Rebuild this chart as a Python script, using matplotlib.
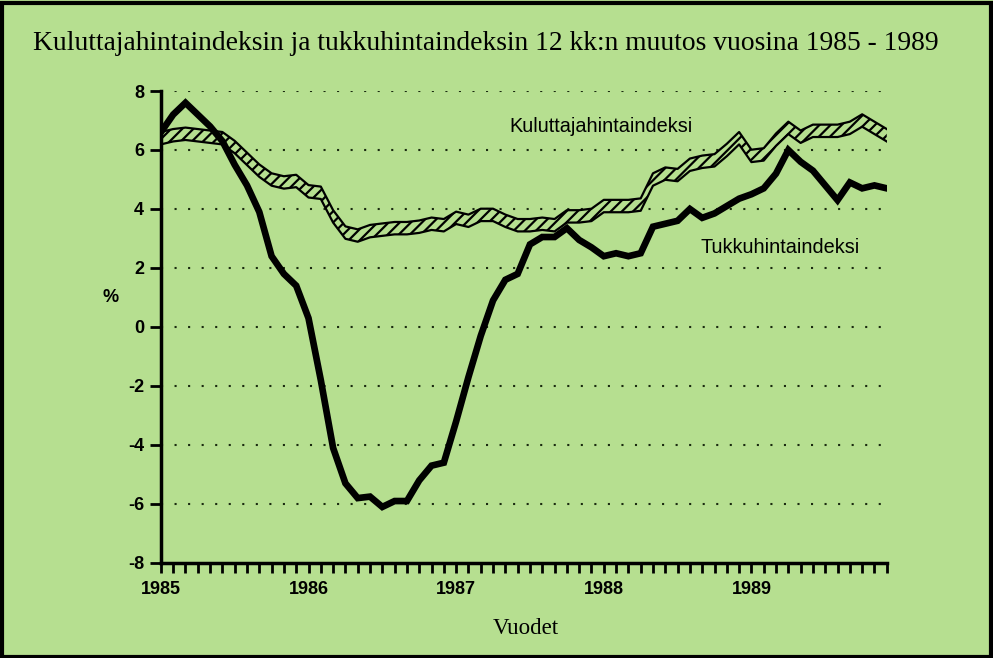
import matplotlib
matplotlib.use("Agg")
import matplotlib.pyplot as plt
import numpy as np
from matplotlib.patches import Rectangle

# Data: monthly values Jan 1985 .. Dec 1989 (index 0..59)
months = list(range(60))
tukku = [6.6, 7.2, 7.6, 7.2, 6.8, 6.3, 5.5, 4.8, 3.9, 2.4,
         1.8, 1.4, 0.3, -1.8, -4.1, -5.3, -5.8, -5.75, -6.1, -5.9,
         -5.9, -5.2, -4.7, -4.6, -3.2, -1.7, -0.3, 0.9, 1.6, 1.8,
         2.8, 3.05, 3.05, 3.35, 2.95, 2.7, 2.4, 2.5, 2.4, 2.5,
         3.4, 3.5, 3.6, 4.0, 3.7, 3.85, 4.1, 4.35, 4.5, 4.7,
         5.2, 6.0, 5.6, 5.3, 4.8, 4.3, 4.9, 4.7, 4.8, 4.7]
kuluttaja = [6.4, 6.5, 6.55, 6.5, 6.45, 6.4, 6.1, 5.7, 5.3, 5.0,
             4.9, 4.95, 4.6, 4.55, 3.75, 3.2, 3.1, 3.25, 3.3, 3.35,
             3.35, 3.4, 3.5, 3.45, 3.7, 3.6, 3.8, 3.8, 3.6, 3.45,
             3.45, 3.5, 3.45, 3.75, 3.75, 3.8, 4.1, 4.1, 4.1, 4.15,
             5.0, 5.2, 5.15, 5.5, 5.6, 5.65, 6.0, 6.4, 5.8, 5.85,
             6.35, 6.75, 6.45, 6.65, 6.65, 6.65, 6.75, 7.0, 6.75, 6.5]
year_labels = ["1985", "1986", "1987", "1988", "1989"]
yticks = [-8, -6, -4, -2, 0, 2, 4, 6, 8]

bg = "#b6df90"
fig = plt.figure(figsize=(9.93, 6.58), dpi=100, facecolor=bg)
ax = fig.add_axes([0.162, 0.1444, 0.731, 0.7173])
ax.set_facecolor(bg)

x = np.array(months)
k = np.array(kuluttaja)
half = 0.21
plt.rcParams['hatch.linewidth'] = 1.6
ax.fill_between(x, k - half, k + half, facecolor=bg, edgecolor="black",
                hatch="///", linewidth=0, zorder=2)
ax.plot(x, k + half, color="black", lw=1.6, zorder=3)
ax.plot(x, k - half, color="black", lw=1.6, zorder=3)
ax.plot(x, tukku, color="black", lw=4.8, solid_joinstyle="miter", zorder=4)

ax.set_xlim(0, 59)
ax.set_ylim(-8, 8)

for yv in yticks[1:]:
    ax.plot([0, 59], [yv, yv], color="#1a2a10", lw=1.5,
            linestyle=(0, (1, 5.5)), zorder=1)

ax.spines["top"].set_visible(False)
ax.spines["right"].set_visible(False)
ax.spines["left"].set_linewidth(2.5)
ax.spines["bottom"].set_linewidth(2.5)

ax.set_yticks(yticks)
ax.set_yticklabels([str(v) for v in yticks], fontfamily="Liberation Sans",
                   fontweight="bold", fontsize=13)
ax.tick_params(axis="y", length=8, width=2, pad=4)

ax.set_xticks(list(range(0, 60)), minor=True)
ax.set_xticks([0, 12, 24, 36, 48])
ax.set_xticklabels(year_labels, fontfamily="Liberation Sans",
                   fontweight="bold", fontsize=13)
ax.tick_params(axis="x", which="both", length=7, width=2, direction="out", pad=6)

ax.text(-4.1, 1.0, "%", fontfamily="Liberation Sans", fontweight="bold",
        fontsize=13, ha="center", va="center")

fig.text(0.4895, 0.934, "Kuluttajahintaindeksin ja tukkuhintaindeksin 12 kk:n muutos vuosina 1985 - 1989",
         fontfamily="Liberation Serif", fontsize=19.8, ha="center", va="center")
fig.text(0.529, 0.045, "Vuodet", fontfamily="Liberation Serif", fontsize=16.5,
         ha="center", va="center")

ax.text(35.8, 6.78, "Kuluttajahintaindeksi", fontfamily="Liberation Sans",
        fontsize=14.3, ha="center", va="center")
ax.text(50.3, 2.71, "Tukkuhintaindeksi", fontfamily="Liberation Sans",
        fontsize=14.3, ha="center", va="center")

fig.patches.append(Rectangle((0.002, 0.002), 0.996, 0.994, transform=fig.transFigure,
                             fill=False, edgecolor="black", linewidth=3))

fig.savefig("out.png", dpi=100, facecolor=bg)
